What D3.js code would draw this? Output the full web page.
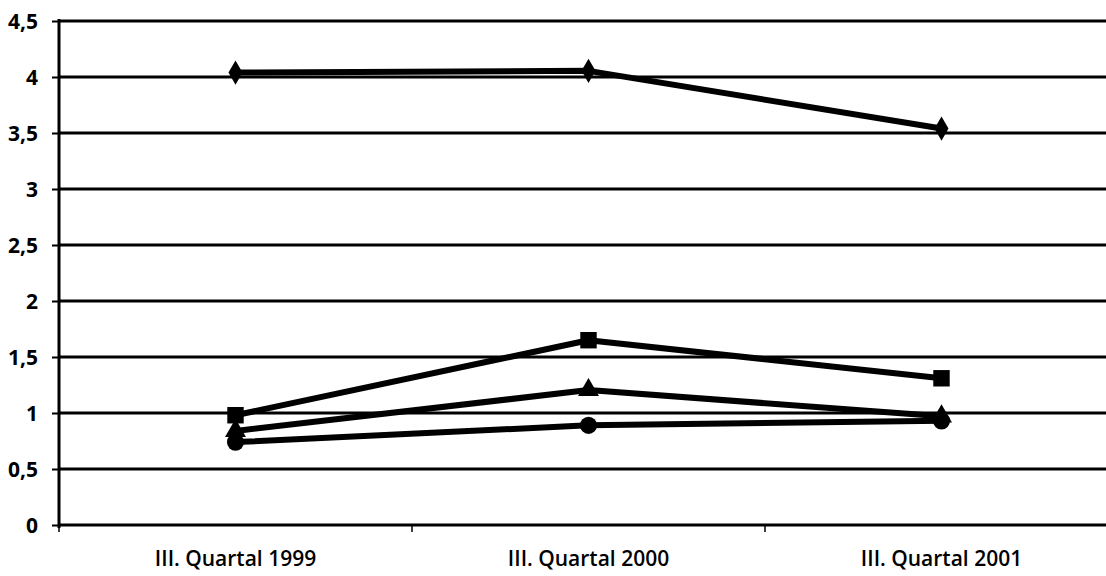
<!DOCTYPE html>
<html><head><meta charset="utf-8">
<script src="https://cdn.jsdelivr.net/npm/d3@7/dist/d3.min.js"></script>
<style>body{margin:0;background:#fff;} svg{display:block;}</style>
</head><body>
<svg id="c" width="1106" height="576"></svg>
<script>
const categories = ["III. Quartal 1999", "III. Quartal 2000", "III. Quartal 2001"];
const yTicks = [0, 0.5, 1, 1.5, 2, 2.5, 3, 3.5, 4, 4.5];
const seriesDiamond = [4.04, 4.055, 3.54];
const seriesSquare = [0.98, 1.65, 1.31];
const seriesTriangle = [0.84, 1.205, 0.97];
const seriesCircle = [0.74, 0.89, 0.93];
const series = [
  {name: "diamond", values: seriesDiamond, symbol: d3.symbolDiamond, size: 170},
  {name: "square", values: seriesSquare, symbol: d3.symbolSquare, size: 270},
  {name: "triangle", values: seriesTriangle, symbol: d3.symbolTriangle, size: 190},
  {name: "circle", values: seriesCircle, symbol: d3.symbolCircle, size: 230}
];

const svg = d3.select("#c");
const mLeft = 59, mTop = 21, mBottom = 525, bandW = 353;
const x = d3.scaleBand().domain(categories).range([mLeft, mLeft + bandW * categories.length]);
const y = d3.scaleLinear().domain([0, 4.5]).range([mBottom, mTop]);

// gridlines
svg.append("g").selectAll("line").data(yTicks.filter(t => t > 0)).join("line")
  .attr("x1", mLeft).attr("x2", 1106)
  .attr("y1", d => y(d)).attr("y2", d => y(d))
  .attr("stroke", "#000").attr("stroke-width", 2.8);

// y axis
const yAxis = svg.append("g").attr("transform", `translate(${mLeft},0)`)
  .call(d3.axisLeft(y).tickValues(yTicks).tickSize(7).tickPadding(14)
    .tickFormat(d => d3.format("")(d).replace(".", ",")));
yAxis.select(".domain").attr("stroke-width", 3).attr("d", `M0,${mTop - 2}V${mBottom + 3}`);
yAxis.selectAll(".tick line").attr("stroke-width", 2);
yAxis.selectAll("text").attr("font-family", "Open Sans").attr("font-weight", 700)
  .attr("font-size", 21).attr("fill", "#000").attr("dy", "0.36em");

// x axis
const xAxis = svg.append("g").attr("transform", `translate(0,${mBottom})`)
  .call(d3.axisBottom(x).tickSize(0));
xAxis.select(".domain").attr("d", `M${mLeft},0H1106`).attr("stroke-width", 3);
xAxis.selectAll("text").attr("font-family", "Open Sans").attr("font-weight", 600)
  .attr("font-size", 21).attr("fill", "#000").attr("y", 41).attr("dy", 0);
// boundary ticks between categories
svg.append("g").selectAll("line").data(categories).join("line")
  .attr("x1", d => x(d)).attr("x2", d => x(d))
  .attr("y1", mBottom).attr("y2", mBottom + 7)
  .attr("stroke", "#000").attr("stroke-width", 1.5);

// lines
const line = d3.line().x((d, i) => x(categories[i]) + x.bandwidth() / 2).y(d => y(d));
svg.append("g").selectAll("path").data(series).join("path")
  .attr("d", s => line(s.values))
  .attr("fill", "none").attr("stroke", "#000").attr("stroke-width", 6)
  .attr("stroke-linejoin", "round");

// markers
series.forEach(s => {
  svg.append("g").selectAll("path").data(s.values).join("path")
    .attr("transform", (d, i) => `translate(${x(categories[i]) + x.bandwidth() / 2},${y(d)})`)
    .attr("d", d3.symbol().type(s.symbol).size(s.size))
    .attr("fill", "#000");
});
</script>
</body></html>
